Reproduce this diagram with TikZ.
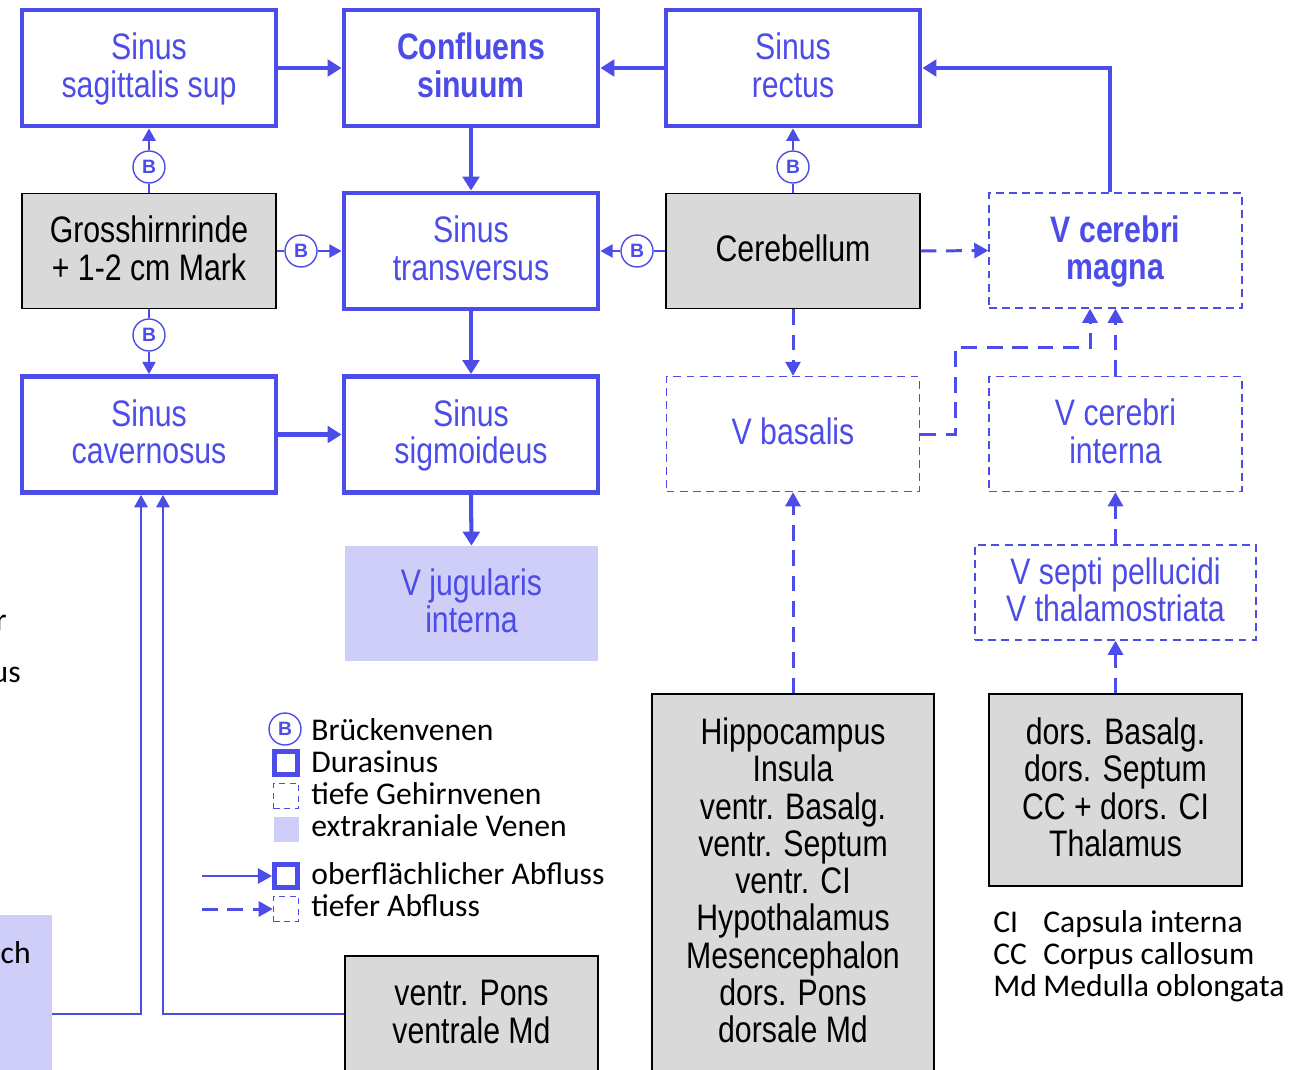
\documentclass[tikz,border=0pt]{standalone}
\usepackage{fontspec}
\setmainfont{Carlito}
\newfontfamily\nar[FakeStretch=0.82]{Liberation Sans}
\newfontfamily\arialf{Liberation Sans}
\usetikzlibrary{arrows.meta,calc}
\definecolor{bl}{RGB}{76,76,232}
\definecolor{lb}{RGB}{206,206,248}
\definecolor{gr}{RGB}{217,217,217}
\newcommand\Ttop{\rule{0pt}{17pt}}
\newcommand\Tbot{\rule[-5pt]{0pt}{5pt}}
\begin{document}
\begin{tikzpicture}[x=0.02cm,y=-0.02cm,
  boxtxt/.style={align=center,inner sep=0pt,font=\nar\fontsize{21}{21.2}\selectfont},
  sinusbox/.style={boxtxt,draw=bl,line width=2.8pt,text=bl,minimum width=5.08cm,minimum height=2.32cm},
  deepbox/.style={boxtxt,draw=bl,line width=0.8pt,dash pattern=on 4.5pt off 3pt,text=bl,minimum width=5.06cm,minimum height=2.3cm},
  graybox/.style={boxtxt,draw=black,line width=0.75pt,fill=gr,text=black,minimum width=5.08cm,minimum height=2.3cm},
  extbox/.style={boxtxt,fill=lb,text=bl,minimum width=5.06cm,minimum height=2.3cm},
  bcirc/.style={circle,draw=bl,line width=0.8pt,fill=white,minimum size=0.64cm,inner sep=0pt,text=bl,font=\arialf\bfseries\fontsize{11}{11}\selectfont},
  mainarr/.style={draw=bl,line width=2.3pt,-{Triangle[length=8pt,width=9.5pt]}},
  bridgeln/.style={draw=bl,line width=1.2pt},
  bridgearr/.style={bridgeln,-{Triangle[length=7pt,width=7.5pt]}},
  deeparr/.style={draw=bl,line width=1.7pt,dash pattern=on 9pt off 5.5pt,-{Triangle[length=8pt,width=8.5pt]}},
  thinarr/.style={draw=bl,line width=1.4pt,-{Triangle[length=7pt,width=7.5pt]}},
  legtxt/.style={anchor=base west,inner sep=0pt,font=\fontsize{18}{18}\selectfont},
  legsq/.style={minimum size=0.5cm,inner sep=0pt}
]
\useasboundingbox (0,0) rectangle (1309,1069);
\clip (0,0) rectangle (1309,1069);

% ---- row 1
\node[sinusbox] (sag)  at (149,68) {\Ttop Sinus\\sagittalis sup\Tbot};
\node[sinusbox,font=\nar\bfseries\fontsize{21}{21.2}\selectfont] (conf) at (471,68) {\Ttop Confluens\\sinuum\Tbot};
\node[sinusbox] (rect) at (793,68) {\Ttop Sinus\\rectus\Tbot};
% ---- row 2
\node[graybox] (gross) at (149,251) {\Ttop Grosshirnrinde\\+ 1-2 cm Mark\Tbot};
\node[sinusbox] (trans) at (471,251) {\Ttop Sinus\\transversus\Tbot};
\node[graybox] (cereb) at (793,251) {\Ttop Cerebellum\Tbot};
\node[deepbox,font=\nar\bfseries\fontsize{21}{21.2}\selectfont] (magna) at (1115.5,250.5) {\Ttop V cerebri\\magna\Tbot};
% ---- row 3
\node[sinusbox] (cav) at (149,434.5) {\Ttop Sinus\\cavernosus\Tbot};
\node[sinusbox] (sig) at (471,434.5) {\Ttop Sinus\\sigmoideus\Tbot};
\node[deepbox] (basal) at (793,434) {\Ttop V basalis\Tbot};
\node[deepbox] (interna) at (1115.5,434) {\Ttop V cerebri\\interna\Tbot};
% ---- row 4
\node[extbox] (jug) at (471.5,603.5) {\Ttop V jugularis\\interna\Tbot};
\node[deepbox,minimum width=5.62cm,minimum height=1.9cm] (septi) at (1115.5,592.5) {\Ttop V septi pellucidi\\V thalamostriata\Tbot};
% ---- bottom
\node[graybox,minimum width=5.64cm,minimum height=7.56cm] (hippo) at (793,883)
  {\Ttop Hippocampus\\Insula\\ventr. Basalg.\\ventr. Septum\\ventr. CI\\Hypothalamus\\Mesencephalon\\dors. Pons\\dorsale Md\Tbot};
\node[graybox,minimum width=5.06cm,minimum height=3.84cm] (dors) at (1115.5,790)
  {\Ttop dors. Basalg.\\dors. Septum\\CC + dors. CI\\Thalamus\Tbot};
\node[graybox,minimum width=5.06cm,minimum height=2.32cm] (pons) at (471.5,1014) {\Ttop ventr. Pons\\ventrale Md\Tbot};
\node[fill=lb,minimum width=2.24cm,minimum height=3.96cm,inner sep=0pt] (lbx) at (-4,1014) {};

% ---- cut-off texts at left edge
\node[legtxt,anchor=base east] (tr) at (7,630) {r};
\node[legtxt,anchor=base east] (tus) at (21,682) {us};
\node[legtxt,anchor=base east] (tch) at (31,963) {ch};

% ---- bridge veins
\node[bcirc] (b1) at (149,167) {B};
\node[bcirc] (b2) at (149,335) {B};
\node[bcirc] (b3) at (301,251) {B};
\node[bcirc] (b4) at (637,251) {B};
\node[bcirc] (b5) at (793,167) {B};
\draw[bridgeln] (gross.north) -- (b1.south);
\draw[bridgearr] (b1.north) -- (sag.south);
\draw[bridgeln] (gross.south) -- (b2.north);
\draw[bridgearr] (b2.south) -- (cav.north);
\draw[bridgeln] (gross.east) -- (b3.west);
\draw[bridgearr] (b3.east) -- (trans.west);
\draw[bridgeln] (cereb.west) -- (b4.east);
\draw[bridgearr] (b4.west) -- (trans.east);
\draw[bridgeln] (cereb.north) -- (b5.south);
\draw[bridgearr] (b5.north) -- (rect.south);

% ---- sinus drainage
\draw[mainarr] (sag.east) -- (conf.west);
\draw[mainarr] (rect.west) -- (conf.east);
\draw[mainarr] (conf.south) -- (trans.north);
\draw[mainarr] (trans.south) -- (sig.north);
\draw[mainarr] (sig.south) -- (jug.north);
\draw[mainarr] (cav.east) -- (sig.west);
\draw[mainarr] ($(magna.north)+(-5.5,0)$) |- (rect.east);

% ---- deep drainage
\draw[deeparr] (cereb.east) -- (magna.west);
\draw[deeparr] (cereb.south) -- (basal.north);
\draw[deeparr] (basal.east) -- ++(35,0) |- ($(magna.south)+(-25.5,39)$) -- ($(magna.south)+(-25.5,0)$);
\draw[deeparr] (interna.north) -- (magna.south);
\draw[deeparr] (septi.north) -- (interna.south);
\draw[deeparr] (dors.north) -- (septi.south);
\draw[deeparr] (hippo.north) -- (basal.south);

% ---- left inflows to cavernosus
\draw[thinarr] (lbx.east) -| ($(cav.south)+(-8,0)$);
\draw[thinarr] (pons.west) -| ($(cav.south)+(14,0)$);

% ---- legend
\node[bcirc] (lgb) at (285,729) {B};
\node[legtxt] (lt1) at (311,740) {Brückenvenen};
\node[legsq,draw=bl,line width=2.8pt,minimum size=0.46cm] (lg2) at (286,763) {};
\node[legtxt] (lt2) at (311,772) {Durasinus};
\node[legsq,draw=bl,line width=0.8pt,dash pattern=on 3.5pt off 2.5pt] (lg3) at (286,796) {};
\node[legtxt] (lt3) at (311,804) {tiefe Gehirnvenen};
\node[legsq,fill=lb] (lg4) at (286,829) {};
\node[legtxt] (lt4) at (311,836) {extrakraniale Venen};
\node[legsq,draw=bl,line width=2.8pt,minimum size=0.46cm] (lg5) at (286,876) {};
\node[legtxt] (lt5) at (311,884) {oberflächlicher Abfluss};
\node[legsq,draw=bl,line width=0.8pt,dash pattern=on 3.5pt off 2.5pt] (lg6) at (286,909) {};
\node[legtxt] (lt6) at (311,916) {tiefer Abfluss};
\coordinate (la5) at (202,876);
\coordinate (la6) at (202,909);
\draw[mainarr,line width=1.6pt,-{Triangle[length=8pt,width=8.5pt]}] (la5) -- (lg5.west);
\draw[deeparr] (la6) -- (lg6.west);

% ---- abbreviations
\node[legtxt] (ab1) at (993,932) {CI};
\node[legtxt] (ab1t) at (1043,932) {Capsula interna};
\node[legtxt] (ab2) at (993,964) {CC};
\node[legtxt] (ab2t) at (1043,964) {Corpus callosum};
\node[legtxt] (ab3) at (993,996) {Md};
\node[legtxt] (ab3t) at (1043,996) {Medulla oblongata};
\end{tikzpicture}
\end{document}
